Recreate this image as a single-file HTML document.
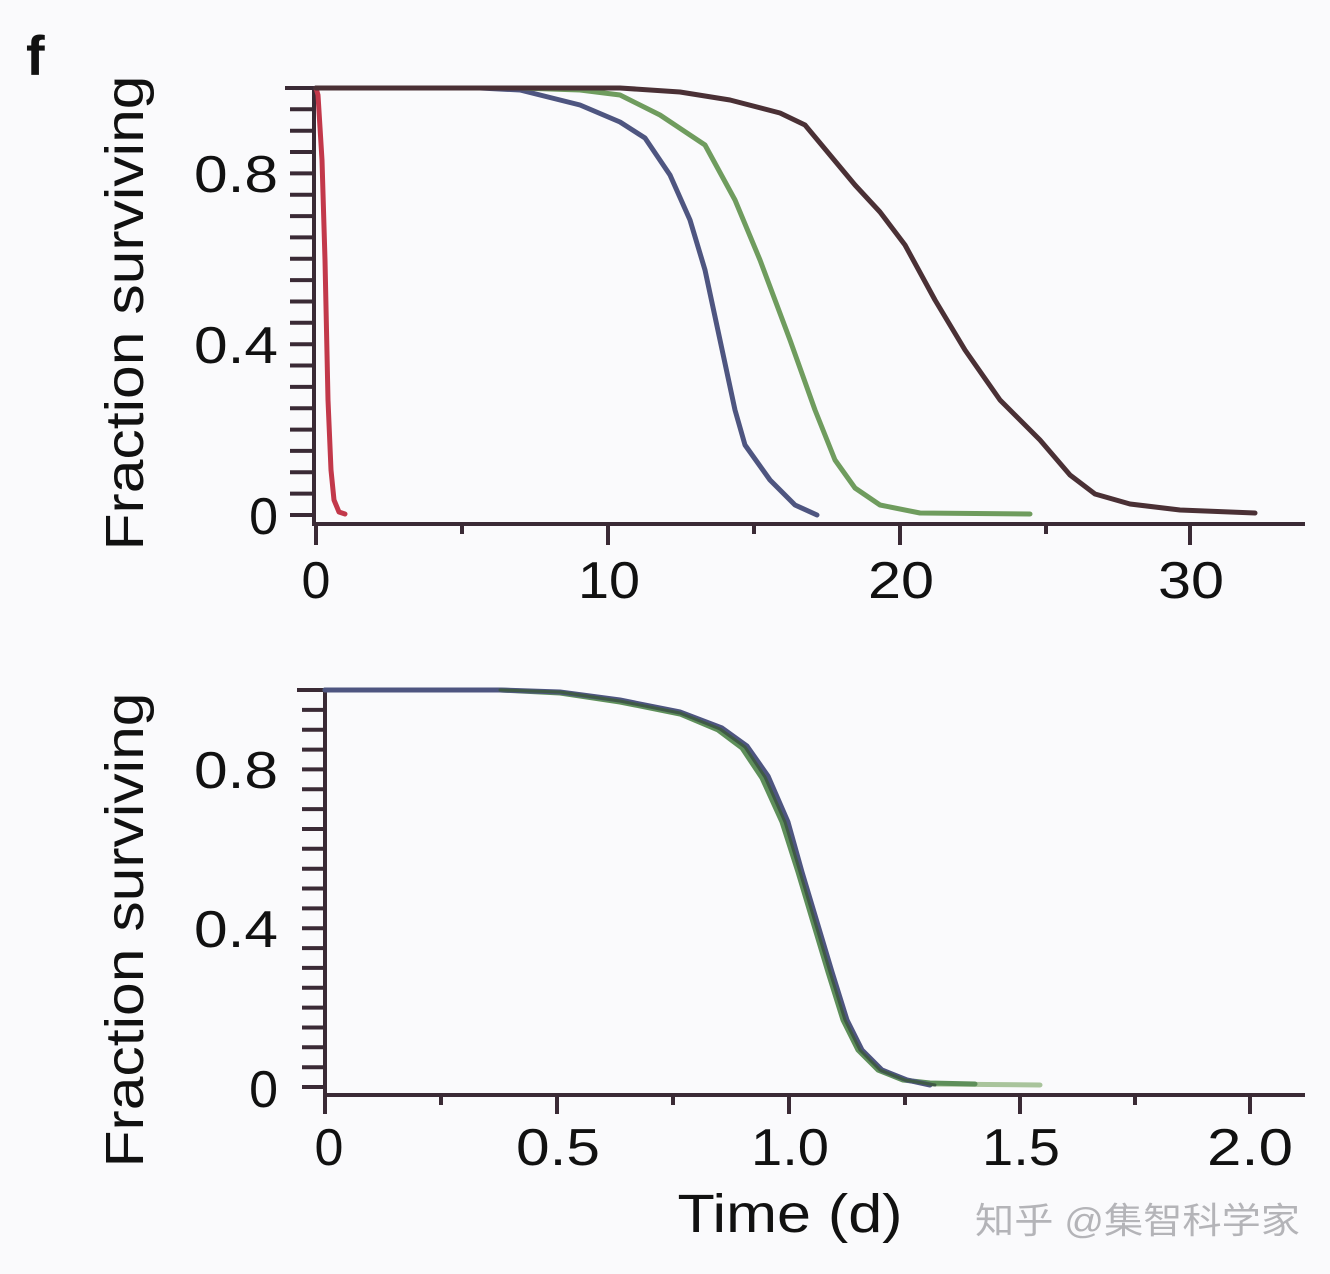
<!DOCTYPE html>
<html><head><meta charset="utf-8"><style>
body{margin:0;background:#fafafc}
svg{display:block}
text{font-family:"Liberation Sans",Arial,sans-serif;fill:#111}
</style></head><body>
<svg width="1330" height="1274" viewBox="0 0 1330 1274" xmlns="http://www.w3.org/2000/svg">
<rect width="1330" height="1274" fill="#fafafc"/>
<text x="26" y="75" font-size="56" font-weight="bold">f</text>
<!-- TOP -->
<g stroke="#3a2a35" stroke-width="4" fill="none">
<line x1="314" y1="88" x2="314" y2="524"/>
<line x1="312" y1="524" x2="1305" y2="524"/>
<line x1="285" y1="88" x2="316" y2="88"/>
<path d="M290 109.3H314M290 130.7H314M290 152H314M290 173.4H314M290 194.7H314M290 216.1H314M290 237.4H314M290 258.8H314M290 280.1H314M290 301.5H314M290 322.8H314M290 344.2H314M290 365.5H314M290 386.9H314M290 408.2H314M290 429.6H314M290 450.9H314M290 472.3H314M290 493.6H314M290 515H314"/>
<path d="M316 524V545M608 524V545M900 524V545M1190 524V545M462 524V534M754 524V534M1046 524V534"/>
</g>
<g fill="none" stroke-width="5" stroke-linejoin="round" stroke-linecap="round">
<polyline stroke="#c2384a" points="316,88 318,95 322,160 325,260 328,400 331,470 334,500 339,512 345,514"/>
<polyline stroke="#4e5580" points="316,88 480,88 520,90 580,105 620,122 645,138 670,175 690,220 705,270 720,340 735,410 745,445 770,480 795,505 817,515"/>
<polyline stroke="#6f9c5e" points="520,88 580,90 620,95 660,115 705,145 735,200 760,260 790,340 815,410 835,460 855,488 880,505 920,513 1030,514"/>
<polyline stroke="#4a3035" points="316,88 620,88 680,92 730,100 780,113 805,125 830,155 855,185 880,212 905,245 935,300 965,350 1000,400 1040,440 1070,475 1095,494 1130,504 1180,510 1255,513"/>
</g>
<g font-size="52" text-anchor="end">
<text x="278" y="192" textLength="84" lengthAdjust="spacingAndGlyphs">0.8</text><text x="278" y="363" textLength="84" lengthAdjust="spacingAndGlyphs">0.4</text><text x="278" y="534">0</text>
</g>
<g font-size="52" text-anchor="middle">
<text x="316" y="598">0</text><text x="609" y="598" textLength="62" lengthAdjust="spacingAndGlyphs">10</text><text x="901" y="598" textLength="66" lengthAdjust="spacingAndGlyphs">20</text><text x="1191" y="598" textLength="66" lengthAdjust="spacingAndGlyphs">30</text>
</g>
<text font-size="54" text-anchor="middle" textLength="475" lengthAdjust="spacingAndGlyphs" transform="translate(143,313) rotate(-90)">Fraction surviving</text>
<!-- BOTTOM -->
<g stroke="#3a2a35" stroke-width="4" fill="none">
<line x1="325" y1="690" x2="325" y2="1095"/>
<line x1="323" y1="1095" x2="1305" y2="1095"/>
<line x1="297" y1="690" x2="327" y2="690"/>
<path d="M302 709.9H325M302 729.7H325M302 749.6H325M302 769.4H325M302 789.3H325M302 809.1H325M302 829H325M302 848.8H325M302 868.7H325M302 888.5H325M302 908.4H325M302 928.2H325M302 948.1H325M302 967.9H325M302 987.8H325M302 1007.6H325M302 1027.5H325M302 1047.3H325M302 1067.2H325M302 1087H325"/>
<path d="M325 1095V1114M557 1095V1114M789 1095V1114M1020 1095V1114M1250 1095V1114M441 1095V1105M673 1095V1105M905 1095V1105M1135 1095V1105"/>
</g>
<g fill="none" stroke-width="5" stroke-linejoin="round" stroke-linecap="round">
<polyline stroke="#a9c49c" points="930,1084 1040,1085"/>
<polyline stroke="#5e8f5a" points="325,690 500,690 560,693 620,702 680,714 718,730 742,748 762,778 782,822 798,872 813,922 828,972 843,1020 858,1050 878,1070 903,1080 930,1083 975,1084"/>
<polyline stroke="#4e5580" points="325,690 500,690 560,692 620,700 680,712 722,728 747,746 768,776 788,822 802,872 817,922 832,972 847,1020 862,1050 882,1070 907,1080 930,1085"/>
<polyline stroke="#3f5a45" stroke-width="3" points="500,690 560,692 620,701 680,713 720,729 745,747 765,777 785,822 800,872 815,922 830,972 845,1020 860,1050 880,1070 905,1080 935,1085"/>
</g>
<g font-size="52" text-anchor="end">
<text x="278" y="788" textLength="84" lengthAdjust="spacingAndGlyphs">0.8</text><text x="278" y="947" textLength="84" lengthAdjust="spacingAndGlyphs">0.4</text><text x="278" y="1107">0</text>
</g>
<g font-size="52" text-anchor="middle">
<text x="329" y="1165">0</text><text x="558" y="1165" textLength="84" lengthAdjust="spacingAndGlyphs">0.5</text><text x="790" y="1165" textLength="78" lengthAdjust="spacingAndGlyphs">1.0</text><text x="1021" y="1165" textLength="78" lengthAdjust="spacingAndGlyphs">1.5</text><text x="1250" y="1165" textLength="86" lengthAdjust="spacingAndGlyphs">2.0</text>
</g>
<text font-size="54" text-anchor="middle" textLength="475" lengthAdjust="spacingAndGlyphs" transform="translate(143,930) rotate(-90)">Fraction surviving</text>
<text x="790" y="1232" font-size="54" text-anchor="middle" textLength="225" lengthAdjust="spacingAndGlyphs">Time (d)</text>
<text x="975" y="1233" font-size="36" textLength="325" lengthAdjust="spacingAndGlyphs" style="font-family:'Liberation Sans','Noto Sans CJK SC',sans-serif;fill:#b4b4b8">知乎 @集智科学家</text>
</svg>
</body></html>
